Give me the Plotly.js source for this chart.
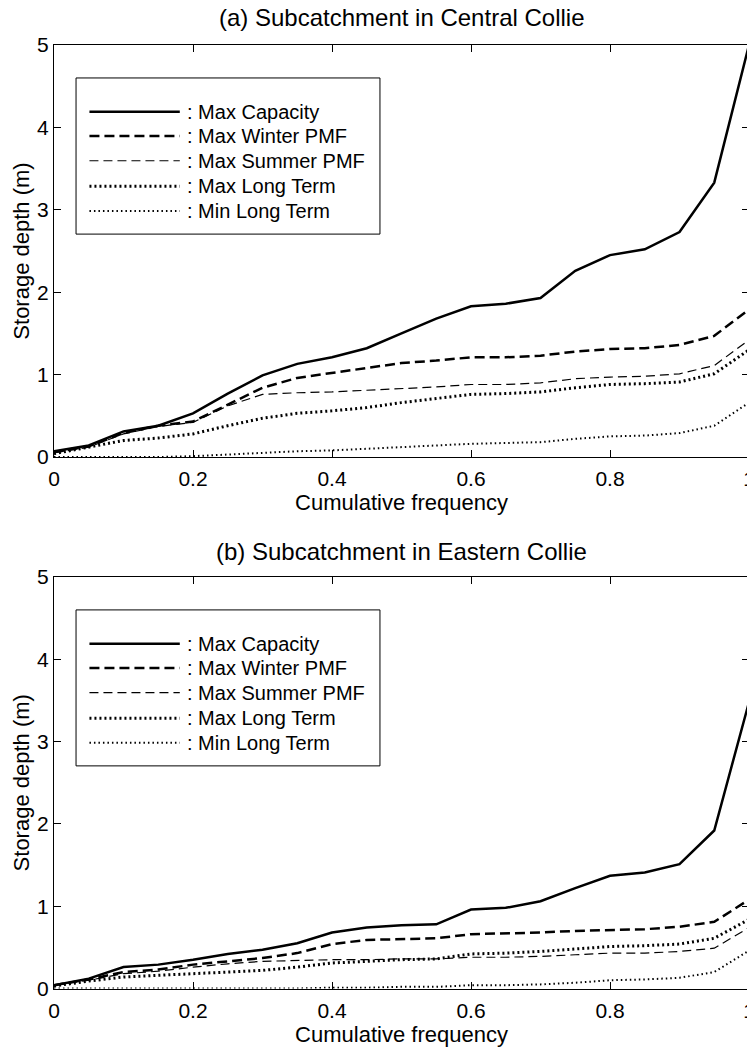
<!DOCTYPE html>
<html>
<head>
<meta charset="utf-8">
<script src="https://cdn.plot.ly/plotly-3.0.1.min.js"></script>
<style>
html, body { margin: 0; padding: 0; overflow: hidden; background: #fff; }
#chart { width: 760px; height: 1047px; }
</style>
</head>
<body>
<div id="chart"></div>
<script>
// ---- data ----
const freq = [0, 0.05, 0.1, 0.15, 0.2, 0.25, 0.3, 0.35, 0.4, 0.45, 0.5, 0.55, 0.6, 0.65, 0.7, 0.75, 0.8, 0.85, 0.9, 0.95, 1.0];

const seriesNames = ['Max Capacity', 'Max Winter PMF', 'Max Summer PMF', 'Max Long Term', 'Min Long Term'];

// (a) Central Collie
const capA     = [0.07, 0.14, 0.31, 0.38, 0.53, 0.77, 0.99, 1.13, 1.21, 1.32, 1.50, 1.68, 1.83, 1.86, 1.93, 2.26, 2.45, 2.52, 2.73, 3.33, 5.00];
const winterA  = [0.06, 0.13, 0.29, 0.38, 0.43, 0.63, 0.84, 0.96, 1.02, 1.08, 1.14, 1.17, 1.21, 1.21, 1.23, 1.28, 1.31, 1.32, 1.36, 1.47, 1.79];
const summerA  = [0.05, 0.12, 0.28, 0.37, 0.42, 0.62, 0.76, 0.78, 0.79, 0.81, 0.83, 0.85, 0.88, 0.88, 0.90, 0.95, 0.97, 0.98, 1.01, 1.11, 1.42];
const maxLongA = [0.04, 0.12, 0.20, 0.23, 0.28, 0.38, 0.47, 0.53, 0.56, 0.60, 0.66, 0.71, 0.76, 0.77, 0.79, 0.84, 0.88, 0.89, 0.91, 1.01, 1.30];
const minLongA = [0.00, 0.00, 0.00, 0.00, 0.01, 0.03, 0.05, 0.07, 0.08, 0.10, 0.12, 0.14, 0.16, 0.17, 0.18, 0.22, 0.25, 0.26, 0.29, 0.38, 0.66];

// (b) Eastern Collie
const capB     = [0.04, 0.12, 0.26, 0.29, 0.35, 0.42, 0.47, 0.55, 0.68, 0.74, 0.77, 0.78, 0.96, 0.98, 1.06, 1.22, 1.37, 1.41, 1.51, 1.92, 3.48];
const winterB  = [0.04, 0.11, 0.20, 0.23, 0.29, 0.33, 0.37, 0.43, 0.54, 0.59, 0.60, 0.61, 0.66, 0.67, 0.68, 0.70, 0.71, 0.72, 0.75, 0.81, 1.08];
const summerB  = [0.04, 0.10, 0.18, 0.21, 0.26, 0.30, 0.33, 0.34, 0.35, 0.35, 0.36, 0.36, 0.38, 0.38, 0.39, 0.41, 0.43, 0.43, 0.45, 0.49, 0.74];
const maxLongB = [0.03, 0.09, 0.14, 0.16, 0.18, 0.20, 0.22, 0.26, 0.31, 0.33, 0.35, 0.36, 0.42, 0.43, 0.45, 0.48, 0.51, 0.52, 0.54, 0.61, 0.84];
const minLongB = [0.00, 0.00, 0.00, 0.00, 0.00, 0.00, 0.00, 0.00, 0.01, 0.01, 0.02, 0.02, 0.04, 0.04, 0.05, 0.07, 0.10, 0.11, 0.13, 0.20, 0.46];

const panelTitles = ['(a) Subcatchment in Central Collie', '(b) Subcatchment in Eastern Collie'];
const xTitle = 'Cumulative frequency';
const yTitle = 'Storage depth (m)';

// ---- styles ----
const FONT = '"Liberation Sans", Arial, Helvetica, sans-serif';
const styles = [
  {width: 2.5, dash: 'solid'},
  {width: 2.5, dash: '10px,5px'},
  {width: 1.2, dash: '9px,5px'},
  {width: 3.0, dash: '2px,3px'},
  {width: 2.0, dash: '1.5px,3px'}
];

const panelData = [
  [capA, winterA, summerA, maxLongA, minLongA],
  [capB, winterB, summerB, maxLongB, minLongB]
];

const traces = [];
panelData.forEach((set, p) => {
  set.forEach((ys, i) => {
    traces.push({
      type: 'scatter', mode: 'lines',
      x: freq, y: ys, name: seriesNames[i],
      xaxis: p === 0 ? 'x' : 'x2',
      yaxis: p === 0 ? 'y' : 'y2',
      line: {color: '#000', width: styles[i].width, dash: styles[i].dash},
      showlegend: false, hoverinfo: 'skip'
    });
  });
});

const W = 760, H = 1047;
const xDom = [54 / W, 749 / W];
const yDomTop = [1 - 457 / H, 1 - 45 / H];
const yDomBot = [1 - 988.5 / H, 1 - 577 / H];

function xAxis(anchor) {
  return {
    domain: xDom, anchor: anchor, range: [0, 1], dtick: 0.2, tick0: 0,
    showline: true, linecolor: '#000', linewidth: 1, mirror: 'allticks',
    ticks: 'inside', ticklen: 7, tickwidth: 1, tickcolor: '#000',
    showgrid: false, zeroline: false, ticklabelstandoff: 3,
    tickfont: {family: FONT, size: 21, color: '#000'},
    title: {text: xTitle, font: {family: FONT, size: 22, color: '#000'}, standoff: 5}
  };
}
function yAxis(anchor, dom) {
  return {
    domain: dom, anchor: anchor, range: [0, 5], dtick: 1, tick0: 0,
    showline: true, linecolor: '#000', linewidth: 1, mirror: 'allticks',
    ticks: 'inside', ticklen: 7, tickwidth: 1, tickcolor: '#000',
    showgrid: false, zeroline: false,
    tickfont: {family: FONT, size: 21, color: '#000'},
    title: {text: yTitle, font: {family: FONT, size: 22, color: '#000'}, standoff: 1}
  };
}

// legend (drawn as decoration inside each panel, in axis-domain units)
const legendBox = {x0: 0.0317, x1: 0.469, y0: 0.541, y1: 0.920};
const legendRows = [0.838, 0.779, 0.719, 0.657, 0.597];
const legendLine = {x0: 0.051, x1: 0.181};
const legendTextX = 0.189;

const shapes = [];
const annotations = [];
[['x domain', 'y domain'], ['x2 domain', 'y2 domain']].forEach(([xr, yr]) => {
  shapes.push({type: 'rect', xref: xr, yref: yr,
    x0: legendBox.x0, x1: legendBox.x1, y0: legendBox.y0, y1: legendBox.y1,
    line: {color: '#000', width: 1}, fillcolor: '#fff', layer: 'above'});
  seriesNames.forEach((nm, i) => {
    shapes.push({type: 'line', xref: xr, yref: yr,
      x0: legendLine.x0, x1: legendLine.x1, y0: legendRows[i], y1: legendRows[i],
      line: {color: '#000', width: styles[i].width, dash: styles[i].dash}, layer: 'above'});
    annotations.push({xref: xr, yref: yr, x: legendTextX, y: legendRows[i],
      xanchor: 'left', yanchor: 'middle', showarrow: false,
      text: ': ' + nm, font: {family: FONT, size: 20, color: '#000'}});
  });
});

annotations.push({xref: 'paper', yref: 'paper', x: 401.5 / W, y: 1 - 18 / H,
  xanchor: 'center', yanchor: 'middle', showarrow: false,
  text: panelTitles[0], font: {family: FONT, size: 24, color: '#000'}});
annotations.push({xref: 'paper', yref: 'paper', x: 401.5 / W, y: 1 - 552 / H,
  xanchor: 'center', yanchor: 'middle', showarrow: false,
  text: panelTitles[1], font: {family: FONT, size: 24, color: '#000'}});

const layout = {
  width: W, height: H,
  margin: {l: 0, r: 0, t: 0, b: 0},
  paper_bgcolor: '#fff', plot_bgcolor: '#fff',
  showlegend: false,
  xaxis: xAxis('y'),
  yaxis: yAxis('x', yDomTop),
  xaxis2: xAxis('y2'),
  yaxis2: yAxis('x2', yDomBot),
  shapes: shapes,
  annotations: annotations,
  font: {family: FONT, color: '#000'}
};

Plotly.newPlot('chart', traces, layout, {displayModeBar: false, staticPlot: true});
</script>
</body>
</html>
